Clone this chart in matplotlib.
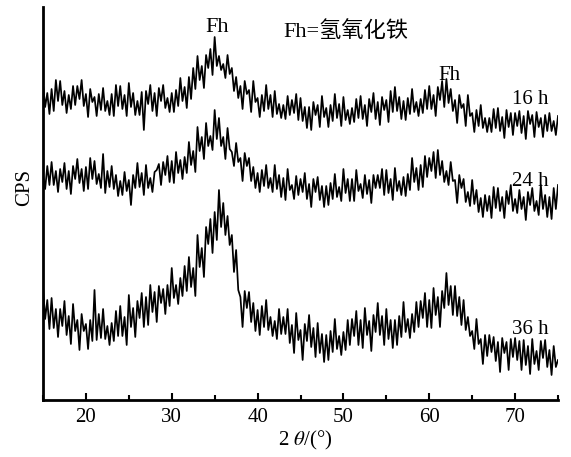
import numpy as np
import matplotlib
matplotlib.use("Agg")
import matplotlib.pyplot as plt
from matplotlib.ticker import MultipleLocator

plt.rcParams['font.family'] = ['Liberation Serif', 'Noto Sans CJK SC', 'DejaVu Sans']
plt.rcParams['mathtext.fontset'] = 'stix'

# scan grid: 15-75 deg, step 0.25 deg
scan_start, scan_stop, scan_step = 15.0, 75.0, 0.25
two_theta = np.linspace(scan_start, scan_stop, int(round((scan_stop - scan_start) / scan_step)) + 1)

# intensity (arbitrary units, offset-stacked as in the figure)
cps_16h = [
    316, 293, 307, 286,  311, 289, 320, 299,  319, 295, 309, 287,  305, 291, 314, 295,
    314, 301, 320, 294,  306, 283, 311, 298,  303, 284, 306, 290,  312, 289, 299, 285,
    306, 284, 315, 294,  314, 291, 305, 284,  317, 293, 307, 285,  299, 285, 308, 270,
    309, 296, 315, 289,  307, 284, 312, 299,  315, 292, 302, 288,  307, 288, 310, 294,
    322, 299, 313, 292,  323, 301, 332, 311,  344, 320, 334, 312,  345, 332, 351, 325,
    363, 334, 344, 330,  336, 322, 345, 326,  332, 309, 323, 302,  314, 291, 319, 306,
    310, 288, 319, 298,  302, 283, 305, 289,  315, 291, 305, 283,  309, 286, 296, 282,
    295, 281, 304, 285,  300, 287, 306, 280,  302, 279, 293, 272,  293, 270, 298, 285,
    295, 273, 304, 283,  292, 273, 295, 279,  306, 282, 296, 274,  303, 280, 290, 276,
    292, 278, 301, 282,  304, 281, 295, 274,  301, 288, 307, 281,  298, 275, 303, 290,
    300, 278, 309, 288,  313, 289, 303, 281,  299, 280, 302, 286,  311, 288, 298, 284,
    301, 287, 310, 291,  314, 291, 305, 284,  313, 300, 319, 293,  321, 297, 311, 289,
    300, 277, 305, 292,  296, 274, 305, 284,  287, 268, 290, 274,  295, 272, 282, 268,
    282, 268, 291, 272,  292, 269, 283, 262,  290, 273, 287, 265,  287, 274, 289, 267,
    284, 261, 289, 276,  285, 263, 288, 273,  282, 263, 285, 269,  287, 269, 279, 265,
    284,
]
cps_24h = [
    225, 211, 234, 215,  238, 215, 229, 208,  231, 218, 237, 211,  229, 206, 234, 221,
    241, 217, 231, 209,  233, 211, 242, 221,  239, 216, 226, 212,  246, 207, 229, 213,
    234, 211, 225, 204,  219, 205, 228, 209,  220, 195, 225, 212,  237, 213, 227, 205,
    235, 212, 222, 208,  228, 230, 236, 215,  238, 225, 244, 218,  239, 217, 248, 227,
    240, 221, 243, 227,  258, 235, 249, 228,  273, 249, 263, 241,  277, 254, 264, 250,
    290, 261, 282, 254,  263, 241, 272, 251,  248, 234, 257, 238,  242, 219, 247, 234,
    242, 219, 233, 212,  227, 208, 230, 214,  235, 212, 222, 208,  235, 211, 225, 203,
    222, 200, 231, 210,  215, 201, 224, 205,  221, 208, 227, 201,  216, 193, 221, 208,
    223, 200, 214, 193,  214, 195, 217, 201,  226, 203, 213, 199,  231, 207, 221, 199,
    221, 199, 230, 209,  216, 202, 225, 206,  220, 197, 225, 212,  225, 212, 231, 205,
    230, 207, 221, 200,  232, 209, 219, 205,  223, 204, 226, 210,  242, 218, 232, 210,
    235, 213, 244, 223,  242, 229, 248, 222,  250, 225, 239, 218,  229, 215, 238, 219,
    220, 197, 225, 212,  221, 198, 208, 194,  220, 196, 210, 188,  202, 183, 205, 189,
    204, 182, 213, 192,  212, 189, 203, 182,  209, 196, 215, 189,  201, 187, 210, 191,
    203, 180, 208, 195,  212, 189, 199, 185,  215, 191, 205, 183,  203, 181, 212, 191,
    215,
]
cps_36h = [
    113, 81, 100, 71,  102, 72, 91, 63,  91, 74, 99, 65,  84, 56, 96, 69,
    80, 50, 86, 69,  76, 51, 80, 59,  110, 60, 86, 62,  91, 61, 74, 55,
    77, 59, 89, 64,  94, 64, 83, 55,  105, 73, 92, 63,  99, 82, 107, 73,
    103, 75, 115, 88,  108, 78, 114, 97,  111, 86, 115, 94,  132, 102, 115, 96,
    122, 104, 134, 109,  143, 113, 132, 104,  165, 133, 152, 123,  173, 156, 181, 147,
    188, 160, 210, 173,  197, 165, 184, 155,  165, 128, 150, 110,  103, 73, 109, 92,
    108, 78, 97, 69,  90, 65, 94, 73,  100, 70, 83, 64,  79, 61, 91, 66,
    83, 66, 91, 57,  75, 47, 87, 60,  70, 40, 76, 59,  85, 53, 72, 43,
    77, 47, 66, 38,  65, 40, 69, 48,  81, 51, 64, 45,  68, 50, 80, 55,
    81, 64, 89, 55,  80, 52, 92, 65,  79, 49, 85, 68,  97, 65, 84, 55,
    91, 61, 80, 52,  80, 55, 84, 63,  98, 68, 81, 62,  86, 68, 98, 73,
    99, 82, 107, 73,  100, 72, 112, 85,  103, 73, 109, 92,  127, 95, 114, 85,
    114, 84, 103, 75,  100, 70, 83, 64,  69, 51, 81, 56,  61, 36, 65, 44,
    65, 48, 63, 39,  58, 28, 62, 47,  58, 30, 61, 43,  62, 40, 59, 30,
    60, 35, 54, 26,  61, 36, 49, 30,  59, 42, 60, 33,  50, 25, 54, 33,
    40,
]

series_labels = ["16 h", "24 h", "36 h"]
peak_label = "Fh"
legend_note = "Fh=氢氧化铁"

fig = plt.figure(figsize=(5.71, 4.57), dpi=100)
ax = fig.add_axes([43/571, 1 - 400/457, (558-43)/571, (400-7)/457])

for ys in (cps_16h, cps_24h, cps_36h):
    ax.plot(two_theta, ys, color='black', lw=1.25)

ax.set_xlim(15, 75)
ax.set_ylim(0, 393)
ax.spines['top'].set_visible(False)
ax.spines['right'].set_visible(False)
ax.spines['left'].set_linewidth(2.0)
ax.spines['bottom'].set_linewidth(2.0)
ax.set_yticks([])
ax.xaxis.set_major_locator(MultipleLocator(10))
ax.xaxis.set_minor_locator(MultipleLocator(5))
ax.tick_params(axis='x', which='major', direction='in', length=5, width=1.5, labelsize=15, pad=6)
ax.tick_params(axis='x', which='minor', direction='in', length=3.5, width=1.5)
ax.set_xticks([20, 30, 40, 50, 60, 70])

ax.text(35.3, 372, peak_label, fontsize=16, ha='center', va='center')
ax.text(62.3, 324, peak_label, fontsize=15, ha='center', va='center')
ax.text(43.0, 368, legend_note, fontsize=16, ha='left', va='center',
        family=['Liberation Serif', 'Noto Sans CJK SC'])
ax.text(71.8, 300, series_labels[0], fontsize=15, ha='center', va='center')
ax.text(71.8, 219, series_labels[1], fontsize=15, ha='center', va='center')
ax.text(71.8, 71, series_labels[2], fontsize=15, ha='center', va='center')

fig.text(25/571, 1 - 188/457, "CPS", rotation=90, fontsize=15, ha='center', va='center')
fig.text(305/571, 1 - 440/457, r"2 $\mathit{\theta}$/(°)", fontsize=15, ha='center', va='center')

fig.savefig("out.png", dpi=100)
